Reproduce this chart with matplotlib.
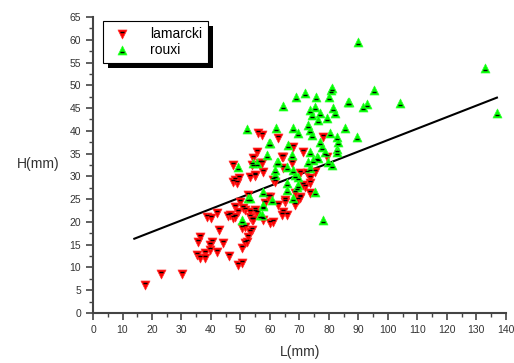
import numpy as np
import matplotlib.pyplot as plt
from matplotlib.path import Path
from matplotlib.patches import Rectangle

plt.rcParams['font.family'] = ['Liberation Sans', 'DejaVu Sans']

# lamarcki (L, H) in mm
lam_L = [17.6, 23, 30.2, 35.6, 36.3, 35.1, 36.3, 38, 38, 39.7, 40.3, 39.7, 42, 42.7,
         44.1, 46.1, 49.2, 50.5, 38.6, 40, 42, 45.8, 47.5, 48.1, 49.8, 49.2, 51.5, 52.5,
         50.5, 51.5, 50.5, 51.5, 52.2, 53.9, 52.5, 53.2, 54.9, 53.9, 48.8, 47.5, 53.2,
         54.3, 57.6, 60, 61, 55, 64.4, 65.8, 68.5, 69.5, 70.2, 65.1, 62.7, 58.3, 60,
         59.3, 50.8, 53.2, 55.6, 46.4, 48.1, 64, 73.6, 71.9, 73.6, 61.7, 70.2, 68.5,
         48.1, 49.5, 54.9, 47.5, 53.9, 56.6, 57.6, 61, 64.4, 70.2, 72.5, 73.6, 71.2,
         79.3, 57.3, 62.7, 78, 55.6, 67.8, 64, 57.3, 64.4, 67.5, 71.2, 75.3, 53.2, 55,
         56, 54.3, 65.1]
lam_H = [6.1, 8.6, 8.6, 15.6, 16.7, 12.7, 12.1, 13.2, 12.1, 13.8, 15.6, 14.9, 13.4, 18.2,
         15.4, 12.5, 10.5, 11, 21.1, 20.9, 22, 21.3, 20.9, 23.3, 24.4, 22.2, 22.6, 25.9,
         18.7, 18.9, 14.3, 15.4, 15.6, 18.2, 16.7, 21.1, 22.2, 20.4, 28.5, 28.8, 17.8,
         20.4, 20.4, 19.8, 20, 22.6, 22.2, 21.5, 23.7, 24.8, 25.5, 24.4, 23.7, 24.1, 25.5,
         25.5, 23.1, 22.2, 22, 21.5, 21.1, 21.5, 26.3, 27.7, 28.5, 28.8, 25.2, 26.3,
         29.2, 29.6, 30, 32.5, 32.5, 32.9, 31, 29.2, 34.3, 30.7, 30.7, 29.6, 28.1,
         34.3, 39.1, 38.4, 38.6, 35.3, 36.4, 34.3, 32.9, 31.8, 32.9, 35.3, 31, 29.9, 30.3,
         39.5, 34, 24.8]

# rouxi (L, H) in mm
rou_L = [89.8, 132.9, 137, 104, 95.3, 92.8, 91.6, 86.8, 80.7, 80, 75.6, 71.9, 69, 64.5,
         81.4, 82, 73.6, 75.3, 77, 74.2, 79.3, 76.3, 73, 62, 67.8, 85.4, 73.6, 69.5, 80.3,
         52.3, 89.5, 74.2, 77, 82.7, 83, 60, 66, 77.6, 82.7, 73.6, 59, 67.4, 75.9, 78.6,
         79.7, 62.4, 55.6, 72.9, 65.8, 61.7, 67.8, 73.6, 69.5, 49.2, 54.3, 50.5, 52.5,
         56.6, 65.8, 75.3, 57.6, 60.7, 57.6, 67.8, 69.2, 57.3, 78, 61.7, 68.5, 69.5, 65.8,
         53.2, 74.6, 76.3, 81, 82.7, 59.7, 62.7, 81, 86.4, 57.6]
rou_H = [59.5, 53.8, 43.9, 46.1, 49, 45.9, 45.3, 46.3, 49, 47.4, 47.4, 48.3, 47.4, 45.4,
         45, 43.9, 44.6, 45.3, 43.9, 43.5, 42.8, 42.4, 41.3, 40.6, 40.6, 40.6, 40.2, 39.5,
         39.5, 40.5, 38.6, 39.1, 37.6, 38.6, 37.6, 37.3, 36.9, 36.4, 36, 35.3, 34.7, 34.7,
         34.3, 35.3, 33.2, 33.2, 32.9, 33.2, 32.1, 31.4, 31.4, 31.8, 29.9, 32, 32.9, 20.4,
         25.2, 21.5, 28.5, 26.6, 26.6, 24.8, 23.5, 25.2, 27.7, 21.5, 20.4, 30.3, 30.3,
         28.1, 27, 25.2, 33.6, 34, 32.5, 35.3, 37.3, 33.2, 49.4, 46.3, 23.7]

# fitted line end points
fit_L = [14, 137]
fit_H = [16.3, 47.3]

# small black bars drawn inside the triangles
bar_down = Path([(0, 1), (-0.5, 0.5), (0.5, 0.5)],
                [Path.MOVETO, Path.MOVETO, Path.LINETO])
bar_up = Path([(0, -1), (-0.5, -0.5), (0.5, -0.5)],
              [Path.MOVETO, Path.MOVETO, Path.LINETO])

fig = plt.figure(figsize=(5.14, 3.63), dpi=100)
ax = fig.add_axes([0.181, 0.138, 0.803, 0.815])

ax.plot(fit_L, fit_H, color='black', linewidth=1.5, zorder=1)

s1 = ax.scatter(lam_L, lam_H, marker='v', s=42, color='#ff0000', edgecolors='#ff3030',
                linewidths=0.5, zorder=2)
s1b = ax.scatter(lam_L, lam_H, marker=bar_down, s=42, color='black', linewidths=1.0, zorder=3)
s2 = ax.scatter(rou_L, rou_H, marker='^', s=42, color='#00ff00', edgecolors='#30ff30',
                linewidths=0.5, zorder=2)
s2b = ax.scatter(rou_L, rou_H, marker=bar_up, s=42, color='black', linewidths=1.0, zorder=3)

ax.set_xlim(0, 140)
ax.set_ylim(0, 65)
ax.set_xticks(np.arange(0, 141, 10))
ax.set_xticks(np.arange(5, 140, 10), minor=True)
ax.set_yticks(np.arange(0, 66, 5))
ax.set_yticks(np.arange(2.5, 65, 5), minor=True)

for s in ['top', 'right']:
    ax.spines[s].set_visible(False)
for s in ['left', 'bottom']:
    ax.spines[s].set_color('#444444')
    ax.spines[s].set_linewidth(1.5)

ax.tick_params(which='major', direction='out', length=5, width=1.2, color='#444444',
               labelsize=7.5, labelcolor='#333333')
ax.tick_params(which='minor', direction='out', length=3, width=1.0, color='#444444')

ax.set_xlabel('L(mm)', fontsize=10, color='#333333')
ax.xaxis.set_label_coords(0.501, -0.11)
ax.set_ylabel('H(mm)', fontsize=10, color='#333333', rotation=0)
ax.yaxis.set_label_coords(-0.133, 0.48)

leg = ax.legend([(s1, s1b), (s2, s2b)], ['lamarcki', 'rouxi'],
                loc='upper left', bbox_to_anchor=(0.024, 0.985), fontsize=10,
                frameon=True, fancybox=False, framealpha=1,
                handletextpad=1.0, borderpad=0.4, labelspacing=0.15, handlelength=2.0,
                borderaxespad=0)
leg.get_frame().set_edgecolor('black')
leg.get_frame().set_linewidth(0.8)
leg.set_zorder(10)

# solid black drop shadow, offset down-right, under the legend box
fig.canvas.draw()
bb = leg.get_window_extent()
inv = ax.transAxes.inverted()
(x0, y0), (x1, y1) = inv.transform([(bb.x0 + 5, bb.y0 - 5), (bb.x1 + 5, bb.y1 - 5)])
shadow = Rectangle((x0, y0), x1 - x0, y1 - y0, transform=ax.transAxes,
                   facecolor='black', edgecolor='none', zorder=9, clip_on=False)
ax.add_patch(shadow)

fig.savefig('out.png', dpi=100)
